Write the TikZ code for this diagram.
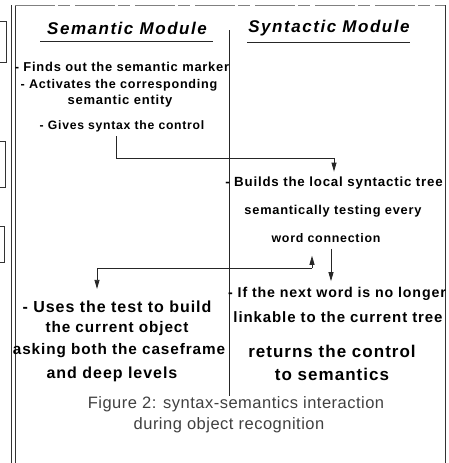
\documentclass[tikz,border=0pt]{standalone}
\usepackage{fontspec}
\setmainfont{Liberation Sans}
\usetikzlibrary{arrows.meta}
\tikzset{
  frameline/.style={line width=0.7pt, black!80},
  wire/.style={line width=0.8pt, black!85},
  arrowwire/.style={wire, -{Triangle[length=9pt, width=5pt]}},
  heading/.style={font=\fontsize{17}{19}\selectfont\bfseries\itshape\addfontfeatures{LetterSpace=9}, inner sep=0pt},
  body/.style={font=\fontsize{#1}{#1}\selectfont\bfseries\addfontfeatures{LetterSpace=6}, inner sep=0pt},
  caption/.style={font=\fontsize{16.5}{18}\selectfont\addfontfeatures{LetterSpace=3}, text=black!75, inner sep=0pt},
}
\begin{document}
\begin{tikzpicture}[x=1pt, y=-1pt]
  \useasboundingbox (0,0) rectangle (448,463);
  % page frame
  \draw[frameline] (11,5) -- (11,463);
  \draw[frameline] (15,5) -- (15,463);
  \draw[frameline, black!50, dash pattern=on 40pt off 3pt on 12pt off 5pt] (15,5) -- (445,5);
  \draw[frameline] (445,5) -- (445,463);
  % fragments of the neighbouring column
  \draw[frameline] (0,21) -- (6,21) -- (6,62) -- (0,62);
  \draw[frameline] (0,141) -- (5,141) -- (5,187) -- (0,187);
  \draw[frameline] (0,226) -- (4,226) -- (4,262) -- (0,262);
  % divider between the modules
  \coordinate (divtop) at (229,30);
  \coordinate (divbot) at (229,396);
  \draw[wire] (divtop) -- (divbot);

  % headings
  \node[heading] (sem) at (127,28) {Semantic Module};
  \node[heading] (syn) at (329,28) {Syntactic Module};
  \draw[wire] (40,41) -- (213,41);
  \draw[wire] (247,42) -- (410,42);

  % semantic module steps
  \node[body=12.9] (s1) at (122,67) {- Finds out the semantic marker};
  \node[body=12.6] (s2) at (119,85) {- Activates the corresponding};
  \node[body=13] (s3) at (120,101) {semantic entity};
  \node[body=12.2] (s4) at (122,126) {- Gives syntax the control};

  % syntactic module steps
  \node[body=13.3] (t1) at (334,183) {- Builds the local syntactic tree};
  \node[body=12.8] (t2) at (333,211) {semantically testing every};
  \node[body=12.4] (t3) at (326,238) {word connection};
  \node[body=14.2] (t4) at (337,294) {- If the next word is no longer};
  \node[body=15] (t5) at (338,317) {linkable to the current tree};
  \node[body=17] (t6) at (332,351) {returns the control};
  \node[body=17] (t7) at (332,374) {to semantics};

  % semantic module, second part
  \node[body=16] (u1) at (117,307) {- Uses the test to build};
  \node[body=15.3] (u2) at (117,329) {the current object};
  \node[body=15.3] (u3) at (119,351) {asking both the caseframe};
  \node[body=16] (u4) at (112,374) {and deep levels};

  % caption
  \node[caption] (cap1) at (236,404) {Figure 2: syntax-semantics interaction};
  \node[caption] (cap2) at (229,425) {during object recognition};

  % control passed from semantics to syntax
  \coordinate (c1) at (116,136);
  \coordinate (c2) at ([yshift=5pt]t1.north -| 334,0);
  \draw[arrowwire] (c1) |- (334,158) -- (c2);

  % testing loop between the two modules
  \coordinate (up0) at (312,268);
  \coordinate (up1) at ([yshift=-13pt]t3.south -| 312,0);
  \coordinate (dn0) at ([yshift=-6pt]t3.south -| 331,0);
  \coordinate (dn1) at ([yshift=6pt]t4.north -| 331,0);
  \coordinate (back) at ([yshift=12pt]u1.north -| 97,0);
  \draw[arrowwire] (up0) -- (up1);
  \draw[arrowwire] (dn0) -- (dn1);
  \draw[arrowwire] (up0) -| (back);
\end{tikzpicture}
\end{document}
